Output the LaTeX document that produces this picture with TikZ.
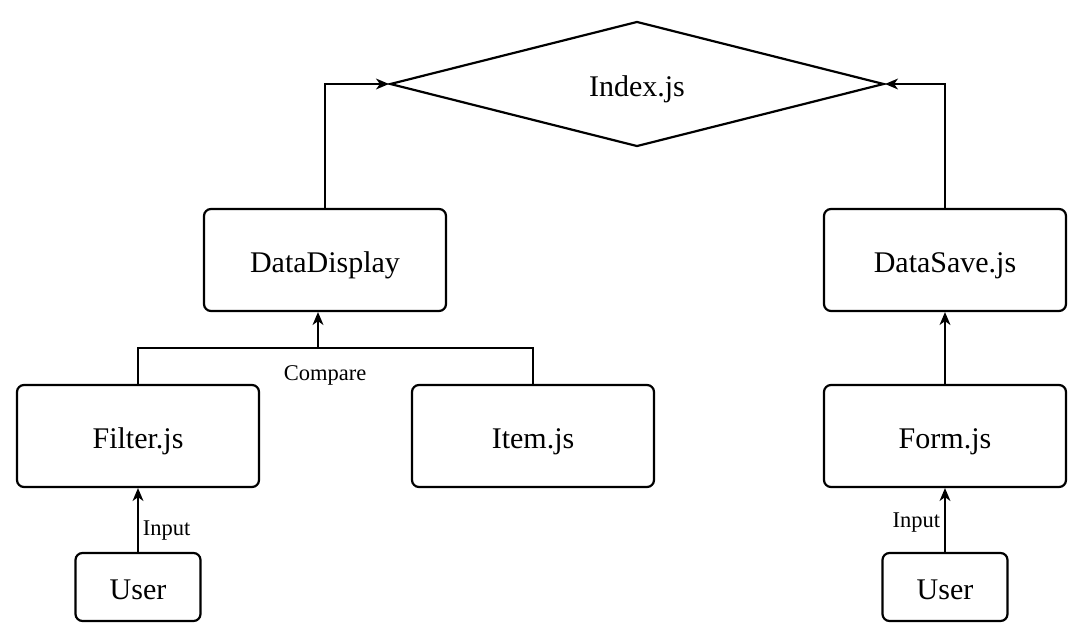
\documentclass[tikz,border=0pt]{standalone}
\usepackage{fontspec}
\setmainfont{Liberation Serif}
\usetikzlibrary{shapes.geometric,arrows.meta}
\begin{document}
\begin{tikzpicture}[x=1pt,y=-1pt,
  big/.style={font=\fontsize{30}{34}\selectfont,text depth=0pt,text height=25pt},
  box/.style={draw,line width=2.2pt,rounded corners=7pt,minimum width=242pt,minimum height=102pt,inner sep=0pt,big},
  ubox/.style={draw,line width=2.2pt,rounded corners=7pt,minimum width=125pt,minimum height=68pt,inner sep=0pt,big},
  conn/.style={line width=1.2pt},
  arr/.style={conn,-{Stealth[length=13pt,width=11pt,inset=4pt]}},
  lbl/.style={font=\fontsize{22.5}{26}\selectfont}]
\useasboundingbox (0,0) rectangle (1085,636);
\node[draw,diamond,line width=2.2pt,aspect=3.95,minimum width=494pt,minimum height=125pt,inner sep=0pt,big] (idx) at (637,84) {Index.js};
\node[box] (dd) at (325,260) {DataDisplay};
\node[box] (ds) at (945,260) {DataSave.js};
\node[box] (flt) at (138,436) {Filter.js};
\node[box] (itm) at (533,436) {Item.js};
\node[box] (frm) at (945,436) {Form.js};
\node[ubox] (u1) at (138,587) {User};
\node[ubox] (u2) at (945,587) {User};
\coordinate (j) at (318,348);
\draw[arr] (dd.north) |- (idx.west);
\draw[arr] (ds.north) |- (idx.east);
\draw[conn] (flt.north) |- (j) -| (itm.north);
\draw[arr] (j) -- (dd.south -| j);
\node[lbl] (cmp) at (325,375) {Compare};
\draw[arr] (frm.north) -- (ds.south);
\draw[arr] (u1.north) -- node[lbl,right=1pt,pos=0.34] (in1) {Input} (flt.south);
\draw[arr] (u2.north) -- node[lbl,left=1pt,pos=0.46] (in2) {Input} (frm.south);
\end{tikzpicture}
\end{document}
